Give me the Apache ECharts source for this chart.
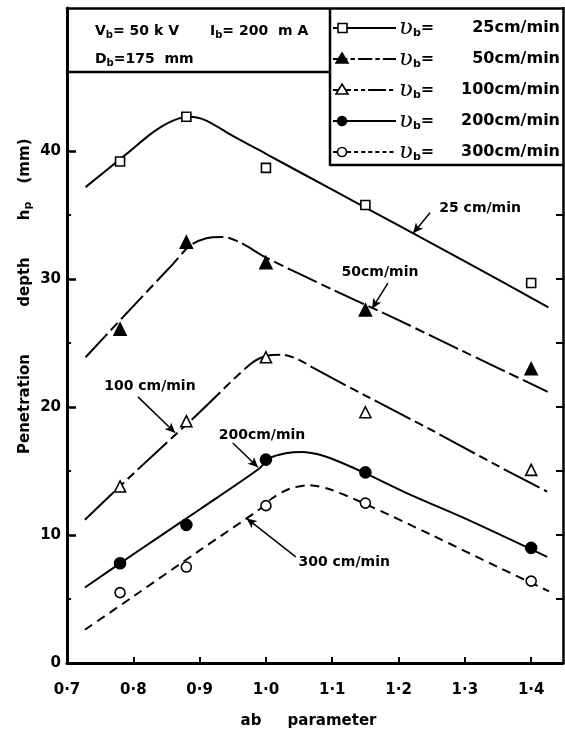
<!DOCTYPE html>
<html>
<head>
<meta charset="utf-8">
<script src="https://cdn.jsdelivr.net/npm/echarts@6/dist/echarts.min.js"></script>
<style>
  html, body { margin: 0; padding: 0; background: #fff; }
  #chart { width: 565px; height: 737px; }
</style>
</head>
<body>
<div id="chart"></div>
<script>
// Travel speeds (cm/min)
const speeds = ['25', '50', '100', '200', '300'];

// ab parameter at which depths were measured
const abMeasured = [0.78, 0.88, 1.0, 1.15, 1.4];

// Measured penetration depth hp (mm)
const depth25  = [39.2, 42.7, 38.7, 35.8, 29.7];
const depth50  = [26.1, 32.9, 31.3, 27.6, 23.0];
const depth100 = [13.8, 18.9, 23.9, 19.6, 15.1];
const depth200 = [7.8, 10.8, 15.9, 14.9, 9.0];
const depth300 = [5.5, 7.5, 12.3, 12.5, 6.4];

// Faired curves through the measurements [ab, hp]
const curve25  = [[0.728, 37.2], [0.79, 39.8], [0.83, 41.5], [0.86, 42.4], [0.885, 42.7], [0.91, 42.4], [0.95, 41.2], [1.0, 39.8], [1.1, 37.0], [1.2, 34.2], [1.3, 31.4], [1.426, 27.8]];
const curve50  = [[0.728, 23.9], [0.8, 27.9], [0.86, 31.2], [0.885, 32.6], [0.91, 33.2], [0.935, 33.3], [0.96, 32.9], [1.0, 31.7], [1.1, 29.2], [1.2, 26.8], [1.3, 24.3], [1.425, 21.2]];
const curve100 = [[0.727, 11.2], [0.8, 14.8], [0.9, 19.6], [0.975, 23.3], [1.0, 24.0], [1.025, 24.1], [1.05, 23.7], [1.07, 23.1], [1.15, 20.9], [1.25, 18.2], [1.35, 15.4], [1.424, 13.4]];
const curve200 = [[0.727, 5.9], [0.8, 8.5], [0.9, 12.0], [0.99, 15.2], [1.005, 16.0], [1.03, 16.4], [1.055, 16.5], [1.08, 16.3], [1.105, 15.85], [1.147, 14.9], [1.22, 13.1], [1.30, 11.3], [1.424, 8.3]];
const curve300 = [[0.727, 2.6], [0.8, 5.2], [0.9, 8.8], [0.99, 12.0], [1.01, 12.9], [1.035, 13.6], [1.065, 13.9], [1.095, 13.6], [1.147, 12.5], [1.25, 10.0], [1.35, 7.5], [1.427, 5.6]];

// Callout labels: text centre and leader line [from, to]
const calloutText  = ['25 cm/min', '50cm/min', '100 cm/min', '200cm/min', '300 cm/min'];
const calloutAt    = [[1.323, 35.5], [1.172, 30.5], [0.825, 21.6], [0.994, 17.8], [1.118, 7.9]];
const calloutFrom  = [[1.2475, 35.2], [1.184, 29.7], [0.807, 20.8], [0.950, 17.2], [1.045, 8.3]];
const calloutTo    = [[1.222, 33.6], [1.160, 27.7], [0.863, 18.0], [0.988, 15.3], [0.971, 11.3]];

// Axis ticks
const xTickLabels = [0.7, 0.8, 0.9, 1.0, 1.1, 1.2, 1.3, 1.4];
const yTickLabels = [0, 10, 20, 30, 40];

const depths = [depth25, depth50, depth100, depth200, depth300];
const curves = [curve25, curve50, curve100, curve200, curve300];
const dashes = ['solid', [32, 5, 10, 5], [40, 5, 9, 5, 9, 5], 'solid', [9, 6]];
const markers = [
  { symbol: 'rect', size: 9, fill: '#fff' },
  { symbol: 'triangle', size: 12, fill: '#000' },
  { symbol: 'triangle', size: 11, fill: '#fff' },
  { symbol: 'circle', size: 11, fill: '#000' },
  { symbol: 'circle', size: 10, fill: '#fff' }
];

const FONT = 'DejaVu Sans';
const chart = echarts.init(document.getElementById('chart'), null, { renderer: 'canvas' });

const series = [];
speeds.forEach((s, i) => {
  series.push({
    name: s + ' cm/min curve',
    type: 'line',
    data: curves[i],
    showSymbol: false,
    smooth: 0.3,
    lineStyle: { color: '#000', width: 2, type: dashes[i] },
    silent: true,
    z: 2,
    markLine: {
      silent: true,
      symbol: ['none', 'arrow'],
      symbolSize: [7, 10],
      label: { show: false },
      lineStyle: { color: '#000', width: 1.5, type: 'solid' },
      data: [[{ coord: calloutFrom[i] }, { coord: calloutTo[i] }]]
    },
    markPoint: {
      silent: true,
      symbol: 'rect',
      symbolSize: 0,
      label: {
        show: true, formatter: calloutText[i], color: '#000',
        fontFamily: FONT, fontWeight: 'bold', fontSize: 14
      },
      data: [{ coord: calloutAt[i] }]
    }
  });
  series.push({
    name: 'hb ' + s,
    type: 'scatter',
    data: abMeasured.map((x, k) => [x, depths[i][k]]),
    symbol: markers[i].symbol,
    symbolSize: markers[i].size,
    itemStyle: { color: markers[i].fill, borderColor: '#000', borderWidth: 1.6, opacity: 1 },
    z: 5
  });
});

// Legend (drawn by hand so the marker sits at the left end of each line sample)
const legendGraphics = [];
speeds.forEach((s, i) => {
  const y = 28 + 31 * i;
  const dash = Array.isArray(dashes[i]) ? dashes[i].map(d => Math.max(3, d * 0.45)) : null;
  legendGraphics.push({
    type: 'line', shape: { x1: 333, y1: y, x2: 396, y2: y },
    style: { stroke: '#000', lineWidth: 2, lineDash: dash }
  });
  const m = markers[i];
  const mk = { fill: m.fill, stroke: '#000', lineWidth: 1.6 };
  if (m.symbol === 'rect') {
    legendGraphics.push({ type: 'rect', shape: { x: 338, y: y - 4.5, width: 9, height: 9 }, style: mk });
  } else if (m.symbol === 'circle') {
    legendGraphics.push({ type: 'circle', shape: { cx: 342, cy: y, r: 4.5 }, style: mk });
  } else {
    legendGraphics.push({ type: 'polygon', shape: { points: [[342, y - 6], [348, y + 4], [336, y + 4]] }, style: mk });
  }
  legendGraphics.push({
    type: 'text', x: 399, y: y,
    style: {
      text: '{v|ʋ}{b|b}{e|=}',
      verticalAlign: 'middle',
      rich: {
        v: { fontFamily: 'DejaVu Serif', fontStyle: 'italic', fontSize: 23, fill: '#000' },
        b: { fontFamily: FONT, fontWeight: 'bold', fontSize: 11, fill: '#000', padding: [10, 0, 0, 0] },
        e: { fontFamily: FONT, fontWeight: 'bold', fontSize: 16, fill: '#000' }
      }
    }
  });
  legendGraphics.push({
    type: 'text', x: 560, y: y,
    style: {
      text: s + 'cm/min', align: 'right', verticalAlign: 'middle',
      fontFamily: FONT, fontWeight: 'bold', fontSize: 16, fill: '#000'
    }
  });
});

const richMain = {
  m: { fontFamily: FONT, fontWeight: 'bold', fontSize: 14, fill: '#000' },
  s: { fontFamily: FONT, fontWeight: 'bold', fontSize: 10, fill: '#000', padding: [8, 0, 0, 0] }
};
const titleStyle = { align: 'center', verticalAlign: 'middle', fontFamily: FONT, fontWeight: 'bold', fontSize: 15, fill: '#000' };

const option = {
  animation: false,
  backgroundColor: '#fff',
  grid: { left: 67, right: 2, top: 8, bottom: 74 },
  xAxis: [
    {
      type: 'value', min: 0.7, max: 1.448, position: 'bottom',
      axisLine: { show: true, onZero: false, lineStyle: { color: '#000', width: 3 } },
      axisTick: { show: true, inside: true, length: 6, lineStyle: { color: '#000', width: 2 }, customValues: xTickLabels.slice(1) },
      axisLabel: {
        customValues: xTickLabels, margin: 20, color: '#000',
        fontFamily: FONT, fontWeight: 'bold', fontSize: 15,
        formatter: v => v.toFixed(1).replace('.', '·')
      },
      splitLine: { show: false }
    },
    {
      type: 'value', min: 0.7, max: 1.448, position: 'top',
      axisLine: { show: true, onZero: false, lineStyle: { color: '#000', width: 2.5 } },
      axisTick: { show: false }, axisLabel: { show: false }, splitLine: { show: false }
    }
  ],
  yAxis: [
    {
      type: 'value', min: 0, max: 51.2, position: 'left',
      axisLine: { show: true, onZero: false, lineStyle: { color: '#000', width: 3 } },
      axisTick: { show: true, inside: true, length: 9, lineStyle: { color: '#000', width: 2.5 }, customValues: yTickLabels },
      axisLabel: {
        customValues: yTickLabels, margin: 6, color: '#000',
        fontFamily: FONT, fontWeight: 'bold', fontSize: 15
      },
      splitLine: { show: false }
    },
    {
      type: 'value', min: 0, max: 51.2, position: 'left',
      axisLine: { show: false },
      axisTick: { show: true, inside: true, length: 4, lineStyle: { color: '#000', width: 2 }, customValues: [5, 15, 25, 35] },
      axisLabel: { show: false }, splitLine: { show: false }
    },
    {
      type: 'value', min: 0, max: 51.2, position: 'right',
      axisLine: { show: true, onZero: false, lineStyle: { color: '#000', width: 2.5 } },
      axisTick: { show: true, inside: true, length: 7, lineStyle: { color: '#000', width: 2 }, customValues: [5, 10, 15, 20, 25, 30, 35] },
      axisLabel: { show: false }, splitLine: { show: false }
    }
  ],
  series: series,
  graphic: [
    // header panel and legend frame
    { type: 'line', shape: { x1: 67, y1: 72, x2: 330, y2: 72 }, style: { stroke: '#000', lineWidth: 2.5 } },
    { type: 'line', shape: { x1: 330, y1: 8, x2: 330, y2: 166 }, style: { stroke: '#000', lineWidth: 2.5 } },
    { type: 'line', shape: { x1: 330, y1: 165, x2: 563, y2: 165 }, style: { stroke: '#000', lineWidth: 2.5 } },
    { type: 'text', x: 95, y: 31, style: { text: '{m|V}{s|b}{m|= 50 k V}', verticalAlign: 'middle', rich: richMain } },
    { type: 'text', x: 210, y: 31, style: { text: '{m|I}{s|b}{m|= 200  m A}', verticalAlign: 'middle', rich: richMain } },
    { type: 'text', x: 95, y: 59, style: { text: '{m|D}{s|b}{m|=175  mm}', verticalAlign: 'middle', rich: richMain } },
    // axis titles
    { type: 'text', x: 25, y: 404, rotation: Math.PI / 2, style: Object.assign({ text: 'Penetration' }, titleStyle) },
    { type: 'text', x: 25, y: 282, rotation: Math.PI / 2, style: Object.assign({ text: 'depth' }, titleStyle) },
    { type: 'text', x: 25, y: 211, rotation: Math.PI / 2, style: { text: '{m|h}{s|p}', align: 'center', verticalAlign: 'middle', rich: { m: { fontFamily: FONT, fontWeight: 'bold', fontSize: 15, fill: '#000' }, s: { fontFamily: FONT, fontWeight: 'bold', fontSize: 11, fill: '#000', padding: [6, 0, 0, 0] } } } },
    { type: 'text', x: 25, y: 161, rotation: Math.PI / 2, style: Object.assign({ text: '(mm)' }, titleStyle) },
    { type: 'text', x: 251, y: 721, style: Object.assign({ text: 'ab' }, titleStyle) },
    { type: 'text', x: 332, y: 721, style: Object.assign({ text: 'parameter' }, titleStyle) }
  ].concat(legendGraphics)
};

chart.setOption(option);
</script>
</body>
</html>
